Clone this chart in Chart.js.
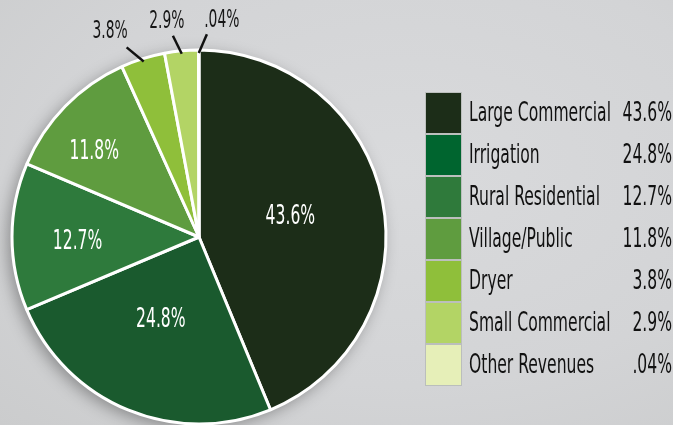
<!DOCTYPE html>
<html>
<head>
<meta charset="utf-8">
<script src="https://cdn.jsdelivr.net/npm/chart.js@4.4.1/dist/chart.umd.min.js"></script>
<style>
  html, body { margin: 0; padding: 0; background: #d4d5d7; }
  #wrap { width: 673px; height: 425px; position: relative;
    background: radial-gradient(ellipse at 60% 40%, #d9dadc 0%, #d3d4d6 60%, #cbcccd 100%); }
</style>
</head>
<body>
<div id="wrap"><canvas id="myChart" width="673" height="425"></canvas></div>
<script>
// data
var categories = ['Large Commercial', 'Irrigation', 'Rural Residential', 'Village/Public', 'Dryer', 'Small Commercial', 'Other Revenues'];
var shares = [43.6, 24.8, 12.7, 11.8, 3.8, 2.9, 0.04];
var shareLabels = ['43.6%', '24.8%', '12.7%', '11.8%', '3.8%', '2.9%', '.04%'];

var sliceColors = ['#1c2d18', '#1a5a2e', '#2e7a3c', '#5f9c3f', '#8fbf3a', '#b3d465', '#e3e9f0'];
var legendColors = ['#1c2d18', '#00652f', '#2f7a3b', '#5f9c3f', '#8fbf3a', '#b3d465', '#e6efb8'];

// label placement per slice (style only): inside -> radius fraction + angle shift (deg)
// outside -> leader end shift, text shift (deg) and text distance beyond the rim
var placement = [
  { f: 0.50, shift: -1 },
  { f: 0.49, shift: 2.3 },
  { f: 0.65, shift: -2.5 },
  { f: 0.72, shift: -5.4 },
  { out: true, lineShift: -3.4, textShift: -5.9, textDist: 37 },
  { out: true, lineShift: -2.0, textShift: -3.1, textDist: 31 },
  { out: true, lineShift: 2.3, textShift: 6.1, textDist: 30 }
];

var FONT = "'Liberation Sans Narrow', 'DejaVu Sans Condensed', sans-serif";
var BIG = 27, SMALL = 24;
var squeeze = 0.86;

function fitSqueeze(ctx) {
  ctx.save();
  ctx.font = BIG + 'px ' + FONT;
  var w = ctx.measureText('Large Commercial').width;
  ctx.restore();
  squeeze = 142 / w;
}

function squeezedText(ctx, txt, x, y, align, size, color) {
  ctx.save();
  ctx.translate(x, y);
  ctx.scale(squeeze, 1);
  ctx.font = size + 'px ' + FONT;
  ctx.fillStyle = color;
  ctx.textAlign = align;
  ctx.textBaseline = 'middle';
  ctx.fillText(txt, 0, 0);
  ctx.restore();
}

function polar(arc, deg, dist) {
  var a = deg * Math.PI / 180;
  return { x: arc.x + Math.cos(a) * dist, y: arc.y + Math.sin(a) * dist };
}

// drop shadow under the pie
var shadowPlugin = {
  id: 'pieShadow',
  beforeDatasetsDraw: function(chart) {
    var arc = chart.getDatasetMeta(0).data[0];
    if (!arc) return;
    var ctx = chart.ctx;
    ctx.save();
    ctx.shadowColor = 'rgba(0,0,0,0.35)';
    ctx.shadowBlur = 16;
    ctx.shadowOffsetX = -4;
    ctx.shadowOffsetY = 4;
    ctx.beginPath();
    ctx.arc(arc.x, arc.y, arc.outerRadius, 0, Math.PI * 2);
    ctx.fillStyle = '#ffffff';
    ctx.fill();
    ctx.restore();
  }
};

var labelPlugin = {
  id: 'sliceLabels',
  afterDatasetsDraw: function(chart) {
    var ctx = chart.ctx;
    fitSqueeze(ctx);
    var meta = chart.getDatasetMeta(0);
    meta.data.forEach(function(arc, i) {
      var p = placement[i];
      var mid = ((arc.startAngle + arc.endAngle) / 2) * 180 / Math.PI;
      var r = arc.outerRadius;
      if (!p.out) {
        var c = polar(arc, mid + p.shift, r * p.f);
        squeezedText(ctx, shareLabels[i], c.x, c.y, 'center', BIG, '#ffffff');
      } else {
        var s = polar(arc, mid, r - 3);
        var e = polar(arc, mid + p.lineShift, r + 16);
        ctx.save();
        ctx.strokeStyle = '#111';
        ctx.lineWidth = 2.5;
        ctx.beginPath();
        ctx.moveTo(s.x, s.y);
        ctx.lineTo(e.x, e.y);
        ctx.stroke();
        ctx.restore();
        var t = polar(arc, mid + p.textShift, r + p.textDist);
        squeezedText(ctx, shareLabels[i], t.x, t.y, 'center', SMALL, '#161616');
      }
    });
  }
};

// legend with right aligned percentages
var legendPlugin = {
  id: 'sideLegend',
  afterDraw: function(chart) {
    var ctx = chart.ctx;
    var top = 93, step = 42, boxX = 426, boxW = 35, boxH = 40;
    categories.forEach(function(name, i) {
      var y = top + i * step;
      ctx.fillStyle = 'rgba(170,175,170,0.6)';
      ctx.fillRect(boxX - 1, y - 1, boxW + 2, boxH + 2);
      ctx.fillStyle = legendColors[i];
      ctx.fillRect(boxX, y, boxW, boxH);
      squeezedText(ctx, name, 469, y + 21, 'left', BIG, '#111111');
      squeezedText(ctx, shareLabels[i], 672, y + 21, 'right', BIG, '#111111');
    });
  }
};

var ctx = document.getElementById('myChart').getContext('2d');
var myChart = new Chart(ctx, {
  type: 'pie',
  data: {
    labels: categories,
    datasets: [{
      data: shares,
      backgroundColor: sliceColors,
      borderColor: '#ffffff',
      borderWidth: 3,
      hoverOffset: 0
    }]
  },
  options: {
    responsive: false,
    animation: false,
    radius: 187,
    layout: { padding: { left: 0, right: 275, top: 49, bottom: 0 } },
    plugins: {
      legend: { display: false },
      tooltip: { enabled: false }
    }
  },
  plugins: [shadowPlugin, labelPlugin, legendPlugin]
});
</script>
</body>
</html>
